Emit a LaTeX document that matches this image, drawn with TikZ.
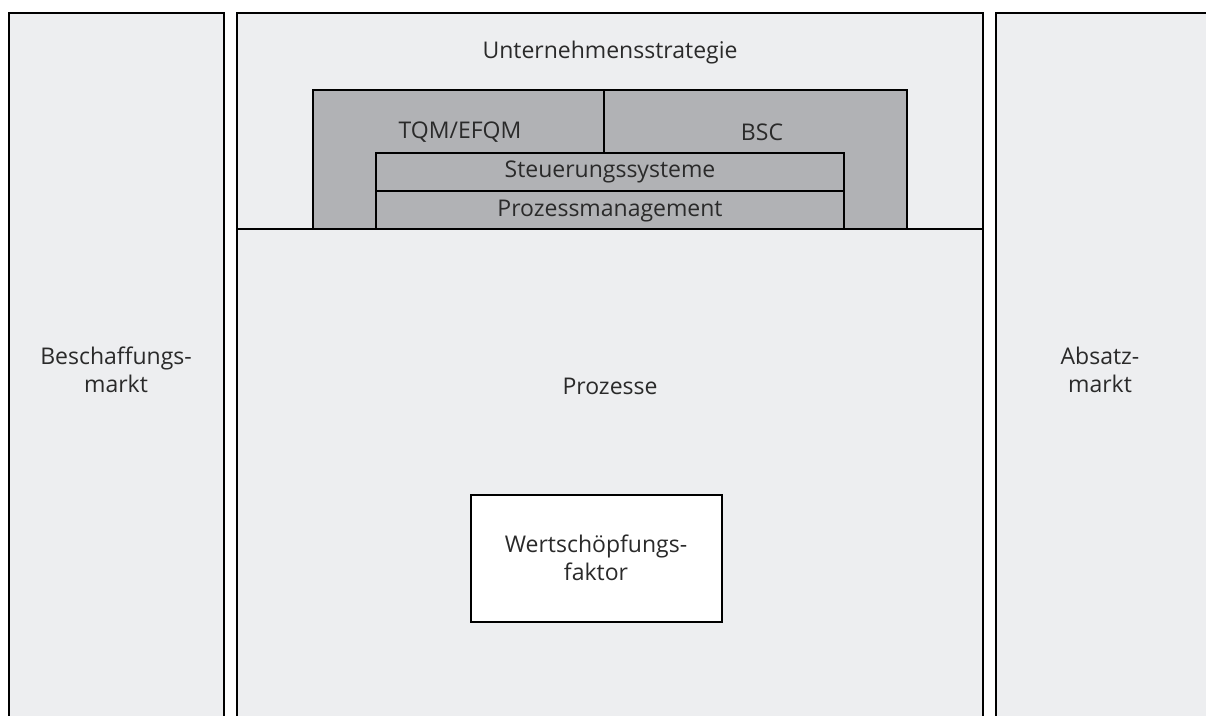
\documentclass[tikz,border=0pt]{standalone}
\usepackage{fontspec}
\setmainfont{Open Sans}
\definecolor{bgpanel}{HTML}{EDEEF0}
\definecolor{graybox}{HTML}{B1B2B5}
\definecolor{txt}{HTML}{2A2A2A}
\tikzset{
  panel/.style={draw=black, line width=1.6pt, fill=bgpanel},
  gbox/.style={draw=black, line width=1.3pt, fill=graybox},
  wbox/.style={draw=black, line width=1.3pt, fill=white},
  lbl/.style={font=\fontsize{23}{28}\selectfont, text=txt, align=center, inner sep=0pt},
}
\begin{document}
\begin{tikzpicture}[x=1pt,y=-1pt]
\useasboundingbox (0,0) rectangle (1206,715);
\clip (0,0) rectangle (1206,715);
% outer panels
\draw[panel] (9,13) rectangle (224,730);
\draw[panel] (237,13) rectangle (983,730);
\draw[panel] (996,13) rectangle (1220,730);
% gray block
\draw[gbox] (313,90) rectangle (907,229);
\draw[gbox] (376,153) rectangle (844,229);
\draw[line width=1.3pt] (376,191) -- (844,191);
\draw[line width=1.3pt] (604,90) -- (604,153);
% line separating strategy / processes
\draw[line width=1.3pt] (237,229) -- (983,229);
% white box
\draw[wbox] (471,495) rectangle (722,622);
% labels
\node[lbl] (strat) at (610,53) {Unternehmensstrategie};
\node[lbl] (tqm) at (460,132) {TQM/EFQM};
\node[lbl] (bsc) at (762,132) {BSC};
\node[lbl] (steu) at (610,172) {Steuerungssysteme};
\node[lbl] (prom) at (610,211) {Prozessmanagement};
\node[lbl] (besch) at (116,370) {Beschaffungs-\\markt};
\node[lbl] (proz) at (610,386) {Prozesse};
\node[lbl] (absatz) at (1100,370) {Absatz-\\markt};
\node[lbl] (wert) at (596,558) {Wertschöpfungs-\\faktor};
\end{tikzpicture}
\end{document}
